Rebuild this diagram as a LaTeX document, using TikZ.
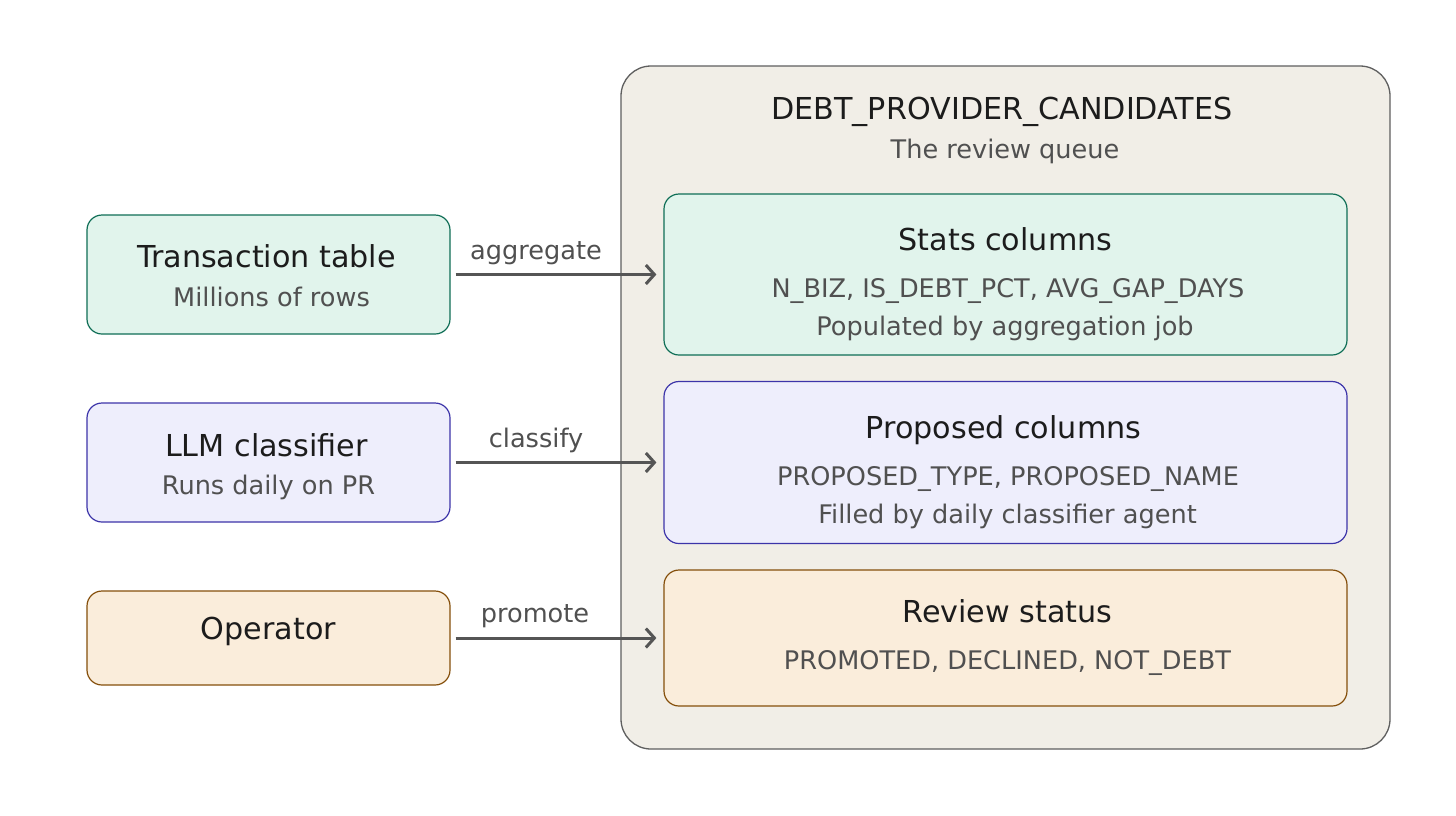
\documentclass[tikz,border=0pt]{standalone}
\usepackage{fontspec}
\setmainfont{DejaVu Sans}
\usetikzlibrary{arrows.meta}
\definecolor{ink}{HTML}{1C1C1C}
\definecolor{subink}{HTML}{505050}
\definecolor{contfill}{HTML}{F1EEE7}
\definecolor{contdraw}{HTML}{5F5F5F}
\definecolor{gfill}{HTML}{E1F4EC}
\definecolor{gdraw}{HTML}{0F6E56}
\definecolor{pfill}{HTML}{EEEEFC}
\definecolor{pdraw}{HTML}{3C34A9}
\definecolor{ofill}{HTML}{FAEDDB}
\definecolor{odraw}{HTML}{854F0B}
\definecolor{arrowc}{HTML}{555555}
\tikzset{
  box/.style={rounded corners=15pt, line width=1.2pt, inner sep=0pt},
  leftbox/.style={box, minimum width=363pt},
  rightbox/.style={box, minimum width=683pt},
  titletext/.style={anchor=base, text=ink, font=\fontsize{30.2}{35}\selectfont, inner sep=0pt},
  subtext/.style={anchor=base, text=subink, font=\fontsize{25.6}{30}\selectfont, inner sep=0pt},
  flow/.style={draw=arrowc, line width=3pt, -{Straight Barb[length=8.5pt,width=19pt,line width=3pt]}, shorten <=5pt, shorten >=7pt},
}
\begin{document}
\begin{tikzpicture}[x=1pt,y=-1pt]
\useasboundingbox (0,0) rectangle (1456,815);
\fill[white] (0,0) rectangle (1456,815);

% container
\node[draw=contdraw, fill=contfill, line width=1.3pt, rounded corners=30pt, minimum width=769pt, minimum height=683pt, inner sep=0pt] (dpc) at (1005.5,407.5) {};
\node[titletext] (dpct) at (1002,119) {DEBT\_PROVIDER\_CANDIDATES};
\node[subtext] (dpcs) at (1005,158) {The review queue};

% left boxes
\node[leftbox, fill=gfill, draw=gdraw, minimum height=119pt] (tx) at (268.5,274.5) {};
\node[titletext] (txt) at (266.5,267) {Transaction table};
\node[subtext] (txs) at (271.5,306) {Millions of rows};

\node[leftbox, fill=pfill, draw=pdraw, minimum height=119pt] (llm) at (268.5,462.5) {};
\node[titletext] (llmt) at (266.5,456) {LLM classifier};
\node[subtext] (llms) at (268.5,494) {Runs daily on PR};

\node[leftbox, fill=ofill, draw=odraw, minimum height=94pt] (op) at (268.5,638) {};
\node[titletext] (opt) at (268.5,639) {Operator};

% right boxes
\node[rightbox, fill=gfill, draw=gdraw, minimum height=161pt] (stats) at (1005.5,274.5) {};
\node[titletext] (statst) at (1005.5,250) {Stats columns};
\node[subtext] (statss1) at (1008,297) {N\_BIZ, IS\_DEBT\_PCT, AVG\_GAP\_DAYS};
\node[subtext] (statss2) at (1005,335) {Populated by aggregation job};

\node[rightbox, fill=pfill, draw=pdraw, minimum height=162pt] (prop) at (1005.5,462.5) {};
\node[titletext] (propt) at (1003.5,438) {Proposed columns};
\node[subtext] (props1) at (1008,485) {PROPOSED\_TYPE, PROPOSED\_NAME};
\node[subtext] (props2) at (1007.5,523) {Filled by daily classifier agent};

\node[rightbox, fill=ofill, draw=odraw, minimum height=136pt] (rev) at (1005.5,638) {};
\node[titletext] (revt) at (1007.5,622) {Review status};
\node[subtext] (revs) at (1007.5,669) {PROMOTED, DECLINED, NOT\_DEBT};

% connectors
\draw[flow] (tx.east) -- (stats.west);
\draw[flow] (llm.east) -- (prop.west);
\draw[flow] (op.east) -- (rev.west);
\node[subtext] (l1) at (536,259) {aggregate};
\node[subtext] (l2) at (536,447) {classify};
\node[subtext] (l3) at (535,622) {promote};
\end{tikzpicture}
\end{document}
